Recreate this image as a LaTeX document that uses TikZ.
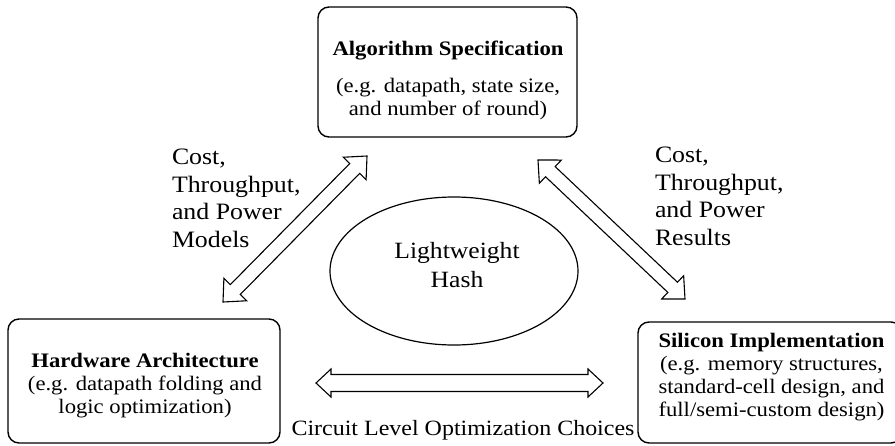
\documentclass[tikz,border=0pt]{standalone}
\usepackage{fontspec}
\setmainfont{Liberation Serif}[FakeStretch=1.1]
\usetikzlibrary{calc,shapes.geometric}

\tikzset{
  panel/.style={draw, line width=1.4pt, rounded corners=11pt, inner sep=0pt},
  blockarrow/.style={draw, line width=1.1pt, fill=white, line join=miter},
  txt/.style={inner sep=0pt, outer sep=0pt, align=center, anchor=north},
  lbl/.style={inner sep=0pt, outer sep=0pt, align=left, anchor=north west,
    font=\fontsize{23.5}{27.7}\selectfont},
  boxfont/.style={font=\fontsize{20.6}{23}\selectfont},
}

% double-headed block arrow between two named points:
% #1,#2 = tips, #3 = head length, #4 = head half-width, #5 = shaft half-width
\newcommand\dblarrow[5]{%
  \draw[blockarrow]
    (#1)
    -- ($(#1)!#3!(#2)!#4!90:(#2)$)
    -- ($(#1)!#3!(#2)!#5!90:(#2)$)
    -- ($(#2)!#3!(#1)!#5!-90:(#1)$)
    -- ($(#2)!#3!(#1)!#4!-90:(#1)$)
    -- (#2)
    -- ($(#2)!#3!(#1)!#4!90:(#1)$)
    -- ($(#2)!#3!(#1)!#5!90:(#1)$)
    -- ($(#1)!#3!(#2)!#5!-90:(#2)$)
    -- ($(#1)!#3!(#2)!#4!-90:(#2)$)
    -- cycle;%
}

\begin{document}
\begin{tikzpicture}[x=1pt, y=-1pt]
  \useasboundingbox (0,0) rectangle (895,445);

  % the three design levels
  \node[panel, minimum width=259pt, minimum height=130pt] (spec) at (447.5,72) {};
  \node[panel, minimum width=272pt, minimum height=124pt] (hw) at (144,381) {};
  \node[panel, minimum width=264pt, minimum height=121pt] (si) at (770,382.5) {};

  \node[txt, boxfont] (specText) at (448,40.8)
    {\textbf{Algorithm Specification}\\[14pt]
     (e.g. datapath, state size,\\ and number of round)};
  \node[txt, boxfont] (hwText) at (145,352.8)
    {\textbf{Hardware Architecture}\\
     (e.g. datapath folding and\\ logic optimization)};
  \node[txt, boxfont] (siText) at (771.5,332.8)
    {\textbf{Silicon Implementation}\\
     (e.g. memory structures,\\ standard-cell design, and\\ full/semi-custom design)};

  % centre
  \node[draw, ellipse, line width=1.2pt, minimum width=248pt, minimum height=148pt,
        inner sep=0pt] (hash) at (454,271) {};
  \node[txt, font=\fontsize{23.3}{29}\selectfont] (hashText) at (457,242)
    {Lightweight\\ Hash};

  % exchanges between the levels
  \coordinate (lA) at (223,302);
  \coordinate (lB) at (367,156);
  \coordinate (rA) at (538,160);
  \coordinate (rB) at (685,299);
  \coordinate (bA) at (316,383);
  \coordinate (bB) at (603,383);

  \dblarrow{lA}{lB}{17.5pt}{16pt}{7pt}
  \dblarrow{rA}{rB}{17pt}{16pt}{7pt}
  \dblarrow{bA}{bB}{15pt}{14pt}{8.5pt}

  \node[lbl] (modelText) at (172,148.8)
    {Cost,\\ Throughput,\\ and Power\\ Models};
  \node[lbl] (resultText) at (655,146.8)
    {Cost,\\ Throughput,\\ and Power\\ Results};
  \node[inner sep=0pt, anchor=base, font=\fontsize{21.8}{25}\selectfont] (choiceText)
    at (463,435) {Circuit Level Optimization Choices};
\end{tikzpicture}
\end{document}
